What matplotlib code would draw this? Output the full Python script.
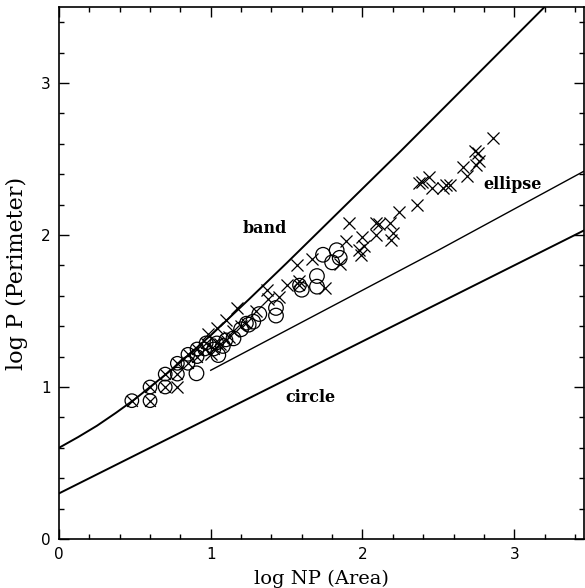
import matplotlib
matplotlib.use("Agg")
import matplotlib.pyplot as plt
from matplotlib.ticker import MultipleLocator

# theoretical curves
band_x = [0.0, 0.125, 0.25, 0.375, 0.5, 0.75, 1.0, 1.25, 1.5, 1.75, 2.0, 2.25, 2.5, 2.75, 3.0, 3.2]
band_y = [0.60, 0.67, 0.745, 0.83, 0.92, 1.12, 1.34, 1.575, 1.815, 2.06, 2.305, 2.55, 2.80, 3.05, 3.30, 3.50]
ellipse_x = [1.0, 2.5, 3.46]
ellipse_y = [1.11, 1.90, 2.42]
circle_x = [0.0, 3.46]
circle_y = [0.30, 2.03]

# circled crosses (small objects)
oc_x = [0.48, 0.60, 0.60, 0.70, 0.70, 0.78, 0.78, 0.85, 0.85, 0.91, 0.91, 0.96, 0.97, 1.02, 1.04, 1.10, 1.235, 1.585]
oc_y = [0.91, 0.91, 1.00, 1.00, 1.085, 1.085, 1.156, 1.156, 1.215, 1.25, 1.20, 1.25, 1.29, 1.25, 1.29, 1.31, 1.42, 1.67]

# open circles
o_x = [0.906, 1.05, 1.08, 1.15, 1.20, 1.25, 1.28, 1.32, 1.43, 1.43, 1.60, 1.70, 1.70, 1.74, 1.80, 1.83, 1.85]
o_y = [1.09, 1.21, 1.27, 1.32, 1.38, 1.41, 1.43, 1.48, 1.52, 1.47, 1.64, 1.73, 1.66, 1.87, 1.82, 1.90, 1.85]

# crosses
x_x = [0.78, 0.98, 1.04, 1.10, 1.17, 1.00, 1.06, 1.12, 1.15, 1.20, 1.30, 1.37, 1.38, 1.45, 1.50, 1.57,
       1.585, 1.67, 1.75, 1.85, 1.89, 1.91, 1.98, 1.99, 2.00, 2.01, 2.09, 2.09, 2.11, 2.18, 2.19, 2.20,
       2.24, 2.36, 2.37, 2.39, 2.44, 2.46, 2.53, 2.55, 2.58, 2.66, 2.69, 2.74, 2.75, 2.76, 2.77, 2.86]
x_y = [1.00, 1.35, 1.39, 1.44, 1.52, 1.22, 1.28, 1.33, 1.37, 1.40, 1.50, 1.64, 1.58, 1.59, 1.67, 1.80,
       1.70, 1.84, 1.65, 1.81, 1.96, 2.08, 1.90, 1.87, 1.99, 1.93, 2.08, 2.00, 2.07, 2.08, 1.97, 2.01,
       2.15, 2.20, 2.34, 2.35, 2.38, 2.31, 2.31, 2.33, 2.33, 2.45, 2.39, 2.55, 2.46, 2.54, 2.49, 2.64]

labels = ["band", "ellipse", "circle"]
label_x = [1.355, 2.99, 1.66]
label_y = [2.04, 2.33, 0.93]

fig = plt.figure(figsize=(5.85, 5.88), dpi=100)
ax = fig.add_axes([59 / 585, 49 / 588, 525 / 585, 532 / 588])

ax.plot(band_x, band_y, color="black", lw=1.4)
ax.plot(ellipse_x, ellipse_y, color="black", lw=1.0)
ax.plot(circle_x, circle_y, color="black", lw=1.4)

ax.scatter(oc_x, oc_y, s=95, facecolors="none", edgecolors="black", linewidths=0.9)
ax.scatter(oc_x, oc_y, s=60, marker="x", color="black", linewidths=0.9)
ax.scatter(o_x, o_y, s=110, facecolors="none", edgecolors="black", linewidths=0.9)
ax.scatter(x_x, x_y, s=75, marker="x", color="black", linewidths=0.9)

for t, lx, ly in zip(labels, label_x, label_y):
    ax.text(lx, ly, t, ha="center", va="center", fontsize=11.5, fontweight="bold", family="DejaVu Serif")

ax.set_xlim(0, 3.46)
ax.set_ylim(0, 3.5)
ax.xaxis.set_major_locator(MultipleLocator(1))
ax.yaxis.set_major_locator(MultipleLocator(1))
ax.xaxis.set_minor_locator(MultipleLocator(0.2))
ax.yaxis.set_minor_locator(MultipleLocator(0.2))
ax.tick_params(which="both", direction="in", top=True, right=True, width=1.0, labelsize=11)
ax.tick_params(which="major", length=7.5, pad=6)
ax.tick_params(which="minor", length=3.5)
for s in ax.spines.values():
    s.set_linewidth(1.2)

ax.set_xlabel("log NP (Area)", fontsize=14, family="DejaVu Serif", labelpad=5)
ax.set_ylabel("log P (Perimeter)", fontsize=16, family="DejaVu Serif", labelpad=9)

fig.savefig("out.png", dpi=100)
